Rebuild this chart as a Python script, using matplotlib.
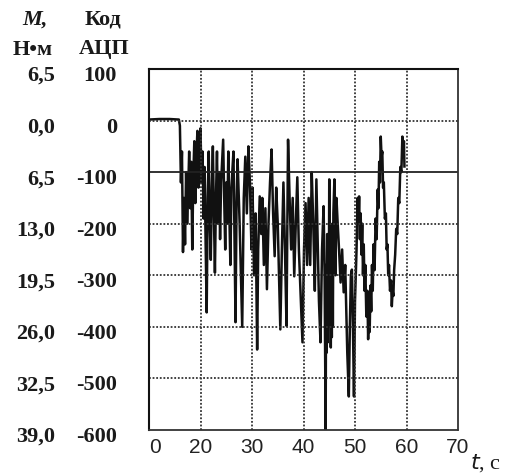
import matplotlib
matplotlib.use('Agg')
import matplotlib.pyplot as plt
import matplotlib.transforms as mtransforms

# signal: time, s and ADC code
t = [10.0, 12.0, 14.0, 15.8, 16.0, 16.2, 16.4, 16.6, 16.8, 17.0, 17.2, 17.4, 17.6,
     17.8, 18.0, 18.2, 18.4, 18.6, 18.8, 19.0, 19.2, 19.4, 19.6, 19.8, 20.0, 20.2,
     20.4, 20.6, 20.8, 21.0, 21.2, 21.4, 21.6, 21.8, 22.0, 22.2, 22.4, 22.6, 22.8,
     23.0, 23.2, 23.4, 23.6, 23.8, 24.0, 24.4, 24.6, 24.8, 25.0, 25.2, 25.4, 25.6,
     25.8, 26.0, 26.4, 26.8, 27.0, 27.2, 27.6, 28.1, 28.4, 28.7, 29.0, 29.3, 29.6,
     29.9, 30.1, 30.4, 30.7, 31.0, 31.2, 31.5, 31.8, 32.0, 32.3, 32.6, 32.9, 33.2,
     33.5, 33.8, 34.1, 34.4, 34.7, 35.0, 35.5, 35.8, 36.1, 36.4, 36.7, 37.0, 37.3,
     37.6, 37.9, 38.2, 38.5, 38.8, 39.1, 39.5, 39.8, 40.1, 40.4, 40.7, 41.0, 41.3,
     41.6, 41.9, 42.2, 42.5, 42.8, 43.0, 43.3, 43.6, 43.9, 44.1, 44.3, 44.4, 44.5,
     44.6, 44.7, 44.8, 44.9, 45.0, 45.1, 45.2, 45.3, 45.4, 45.5, 45.6, 45.7, 45.8,
     46.0, 46.2, 46.4, 46.6, 46.9, 47.2, 47.5, 47.8, 48.1, 48.5, 48.8, 49.0, 49.2,
     49.4, 49.6, 49.8, 50.0, 50.3, 50.5, 50.65, 50.8, 50.95, 51.1, 51.25, 51.4,
     51.55, 51.7, 51.85, 52.0, 52.2, 52.4, 52.55, 52.7, 52.85, 53.0, 53.15, 53.3,
     53.45, 53.6, 53.8, 54.0, 54.2, 54.4, 54.55, 54.7, 54.85, 55.0, 55.15, 55.3,
     55.45, 55.6, 55.8, 56.0, 56.15, 56.3, 56.45, 56.6, 56.8, 57.0, 57.15, 57.3,
     57.45, 57.6, 57.8, 58.0, 58.2, 58.4, 58.6, 58.8, 59.0, 59.2, 59.35, 59.5, 59.6]
code = [2, 3, 3, 2, -10, -120, -60, -255, -150, -240, -100, -200, -140,
        -60, -170, -80, -250, -110, -40, -160, -70, -20, -130, -40, -15, -120,
        -60, -190, -90, -240, -372, -150, -60, -200, -270, -130, -50, -180, -295,
        -150, -60, -200, -100, -230, -120, -37, -150, -250, -120, -200, -60, -180,
        -280, -130, -60, -391, -160, -75, -200, -400, -150, -70, -180, -50, -120,
        -250, -130, -300, -180, -444, -250, -147, -220, -150, -280, -170, -327, -200,
        -120, -56, -180, -263, -130, -200, -405, -250, -120, -250, -398, -37, -150,
        -250, -150, -302, -200, -110, -250, -350, -430, -250, -160, -280, -150, -280,
        -100, -200, -330, -114, -250, -350, -430, -250, -166, -300, -600, -280, -450,
        -220, -430, -250, -400, -114, -380, -230, -440, -260, -420, -200, -400, -180,
        -114, -300, -150, -192, -250, -314, -250, -333, -280, -450, -535, -400, -300,
        -289, -400, -535, -350, -250, -150, -200, -147, -230, -180, -260, -200,
        -300, -240, -330, -280, -380, -330, -424, -360, -410, -320, -370, -280,
        -330, -240, -290, -190, -230, -134, -170, -80, -120, -31, -70, -60,
        -130, -120, -190, -180, -250, -240, -300, -280, -330, -310, -360, -330,
        -340, -290, -260, -210, -220, -150, -160, -90, -100, -31, -70, -40, -89]

code_ticks = [100, 0, -100, -200, -300, -400, -500, -600]
code_labels = ['100', '0', '-100', '-200', '-300', '-400', '-500', '-600']
m_labels = ['6,5', '0,0', '6,5', '13,0', '19,5', '26,0', '32,5', '39,0']
t_ticks = [10, 20, 30, 40, 50, 60, 70]
t_labels = ['0', '20', '30', '40', '50', '60', '70']

W, H = 508, 477
fig = plt.figure(figsize=(W / 100, H / 100), dpi=100)
ax = fig.add_axes([149 / W, 1 - 431 / H, (458 - 149) / W, (431 - 70) / H])

ax.plot(t, code, color='#111111', lw=1.8)
ax.set_xlim(10, 70)
ax.set_ylim(-600, 100)

dots = dict(color='#333333', lw=1.3, ls=(0, (1, 1)))
for x in t_ticks[1:-1]:
    ax.axvline(x, **dots)
for y in [0, -200, -300, -400, -500]:
    ax.axhline(y, **dots)
ax.axhline(-100, color='#222222', lw=1.3)

for s in ['left', 'top']:
    ax.spines[s].set_linewidth(1.5)
    ax.spines[s].set_color('#111111')
for s in ['right', 'bottom']:
    ax.spines[s].set_linestyle((0, (1, 1)))
    ax.spines[s].set_linewidth(1.3)
    ax.spines[s].set_color('#333333')

ax.set_yticks([])
ax.set_xticks(t_ticks)
ax.set_xticklabels(t_labels, fontfamily='Liberation Sans', fontsize=15,
                   color='#222222')
ax.tick_params(axis='x', length=0, pad=5)
first = ax.get_xticklabels()[0]
first.set_transform(first.get_transform() +
                    mtransforms.ScaledTranslation(6 / 100, 0, fig.dpi_scale_trans))

serif = dict(fontfamily='Liberation Serif', fontweight='bold', fontsize=16,
             color='#1a1a1a')
tr = mtransforms.offset_copy(ax.get_yaxis_transform(), fig=fig, x=0, y=-6,
                             units='dots')
for v, a, m in zip(code_ticks, code_labels, m_labels):
    ax.text((117 - 149) / 309, v, a, transform=tr, ha='right', va='center', **serif)
    ax.text((55 - 149) / 309, v, m, transform=tr, ha='right', va='center', **serif)

fig.text(22 / W, 1 - 20 / H, 'M,', ha='left', va='center', fontstyle='italic',
         **serif)
fig.text(33 / W, 1 - 50 / H, 'Н•м', ha='center', va='center', **serif)
fig.text(103 / W, 1 - 20 / H, 'Код', ha='center', va='center', **serif)
fig.text(104 / W, 1 - 49 / H, 'АЦП', ha='center', va='center', **serif)
fig.text(470 / W, 1 - 463 / H, '$\\it{t}$, с', ha='left', va='center',
         fontfamily='Liberation Serif', fontsize=16, color='#1a1a1a')

fig.savefig('out.png', dpi=100)
